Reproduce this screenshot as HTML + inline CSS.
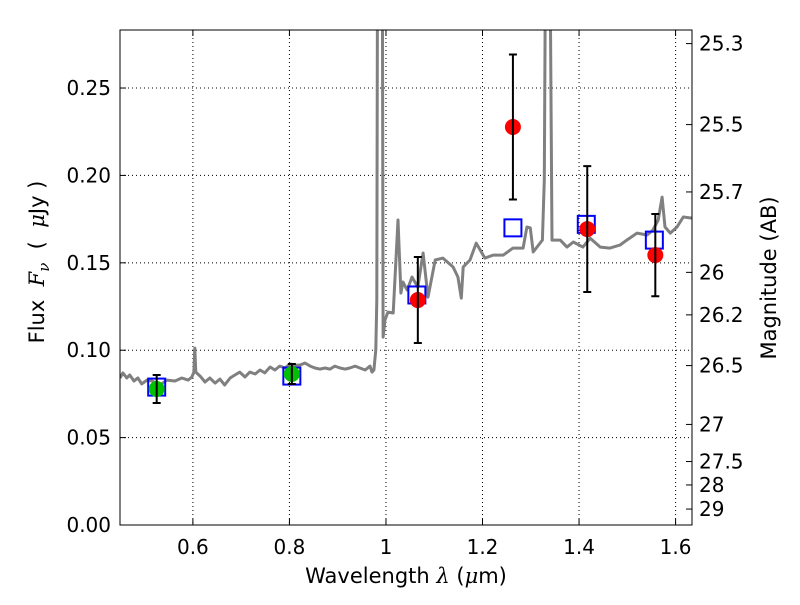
<!DOCTYPE html>
<html><head><meta charset="utf-8"><style>
body{margin:0;background:#fff;}
svg text{font-family:"DejaVu Sans","Liberation Sans",sans-serif;fill:#000;}
</style></head><body>
<svg id="chart" width="800" height="600" xmlns="http://www.w3.org/2000/svg">
<rect width="800" height="600" fill="#fff"/>
<defs><clipPath id="plotclip"><rect x="120" y="30" width="572" height="495"/></clipPath></defs>
<g id="grid"></g>
<g id="spec" clip-path="url(#plotclip)"></g>
<g id="marks"></g>
<rect x="120" y="30" width="572" height="495" fill="none" stroke="#000" stroke-width="1"/>
<g id="axes"></g>
<text x="406" y="583" font-size="21" text-anchor="middle">Wavelength  <tspan font-style="italic" font-family="DejaVu Serif, serif">λ</tspan> (<tspan font-style="italic" font-family="DejaVu Serif, serif">μ</tspan>m)</text>
<text transform="translate(44,262) rotate(-90)" font-size="21" text-anchor="middle" xml:space="preserve">Flux  <tspan font-style="italic" font-family="DejaVu Serif, serif">F</tspan><tspan font-style="italic" font-size="15" dy="5" font-family="DejaVu Serif, serif">ν</tspan><tspan dy="-5">  (  </tspan><tspan font-style="italic" font-family="DejaVu Serif, serif">μ</tspan>Jy )</text>
<text transform="translate(776,278) rotate(-90)" font-size="21" text-anchor="middle">Magnitude (AB)</text>
</svg>
<script>
const specLam=[0.449,0.455,0.463,0.469,0.478,0.486,0.494,0.505,0.515,0.532,0.546,0.563,0.577,0.590,0.598,0.602,0.604,0.606,0.615,0.625,0.635,0.646,0.656,0.666,0.677,0.687,0.697,0.708,0.718,0.729,0.739,0.749,0.760,0.770,0.780,0.791,0.801,0.811,0.822,0.832,0.843,0.853,0.863,0.874,0.884,0.894,0.905,0.915,0.925,0.936,0.946,0.957,0.967,0.971,0.975,0.979,0.981,0.983,0.988,0.992,0.994,0.998,1.004,1.015,1.025,1.031,1.035,1.044,1.054,1.066,1.077,1.087,1.102,1.118,1.139,1.149,1.156,1.160,1.174,1.187,1.205,1.222,1.243,1.263,1.284,1.292,1.299,1.305,1.324,1.328,1.332,1.338,1.344,1.361,1.375,1.388,1.408,1.423,1.444,1.464,1.485,1.499,1.520,1.541,1.553,1.564,1.572,1.578,1.589,1.603,1.616,1.634];
const specFlux=[0.0841,0.0870,0.0841,0.0858,0.0824,0.0841,0.0807,0.0829,0.0824,0.0801,0.0829,0.0824,0.0841,0.0829,0.0847,0.0875,0.1012,0.0875,0.0852,0.0818,0.0841,0.0812,0.0835,0.0801,0.0841,0.0858,0.0875,0.0847,0.0875,0.0864,0.0887,0.0870,0.0904,0.0887,0.0909,0.0898,0.0921,0.0915,0.0915,0.0927,0.0909,0.0898,0.0892,0.0898,0.0892,0.0909,0.0898,0.0892,0.0898,0.0909,0.0898,0.0887,0.0909,0.0875,0.0887,0.1001,0.1287,0.40,0.40,0.40,0.1075,0.1173,0.1218,0.1213,0.1745,0.1327,0.1390,0.1344,0.1419,0.1361,0.1556,0.1304,0.1516,0.1527,0.1476,0.1419,0.1298,0.1476,0.1516,0.1613,0.1527,0.1544,0.1544,0.1584,0.1584,0.1705,0.1699,0.1562,0.1630,0.1973,0.40,0.40,0.1630,0.1630,0.1590,0.1619,0.1590,0.1641,0.1590,0.1584,0.1602,0.1630,0.1670,0.1659,0.1687,0.1745,0.1876,0.1705,0.1670,0.1705,0.1762,0.1756];
const photLam=[0.525,0.805,1.066,1.263,1.417,1.558];
const photFlux=[0.0778,0.0864,0.1287,0.2277,0.1693,0.1544];
const photErr=[0.008,0.0057,0.0246,0.0415,0.036,0.0235];
const photGreen=[true,true,false,false,false,false];
const modelLam=[0.525,0.805,1.064,1.263,1.415,1.556];
const modelFlux=[0.0789,0.0852,0.1316,0.170,0.172,0.163];
const xTicks=[0.6,0.8,1.0,1.2,1.4,1.6];
const xTickLabels=["0.6","0.8","1","1.2","1.4","1.6"];
const yTicks=[0,0.05,0.10,0.15,0.20,0.25];
const yTickLabels=["0.00","0.05","0.10","0.15","0.20","0.25"];
const magTicks=[25.3,25.5,25.7,26,26.2,26.5,27,27.5,28,29];
const magTickLabels=["25.3","25.5","25.7","26","26.2","26.5","27","27.5","28","29"];

const X0=120,X1=692,Y0=525,Y1=30,XMIN=0.449,XMAX=1.634,YMIN=0,YMAX=0.2832;
const sx=v=>X0+(v-XMIN)/(XMAX-XMIN)*(X1-X0);
const sy=v=>Y0-(v-YMIN)/(YMAX-YMIN)*(Y0-Y1);
const NS="http://www.w3.org/2000/svg";
function mk(tag,attrs,parent){const e=document.createElementNS(NS,tag);for(const k in attrs)e.setAttribute(k,attrs[k]);parent.appendChild(e);return e;}
const grid=document.getElementById('grid'),axes=document.getElementById('axes'),spec=document.getElementById('spec'),marks=document.getElementById('marks');

xTicks.forEach((t,i)=>{const x=sx(t);
 let g=mk('line',{x1:x,x2:x,y1:Y1,y2:Y0,stroke:'#000','stroke-dasharray':'1,3','stroke-width':1},grid);
 
 mk('line',{x1:x,x2:x,y1:Y0,y2:Y0-6,stroke:'#000'},axes);
 mk('line',{x1:x,x2:x,y1:Y1,y2:Y1+6,stroke:'#000'},axes);
 let tx=mk('text',{x:x,y:Y0+29,'font-size':20,'text-anchor':'middle'},axes);tx.textContent=xTickLabels[i];
 
});
yTicks.forEach((t,i)=>{const y=sy(t);
 if(t>0){let g=mk('line',{x1:X0,x2:X1,y1:y,y2:y,stroke:'#000','stroke-dasharray':'1,3','stroke-width':1},grid);
 }
 mk('line',{x1:X0,x2:X0+6,y1:y,y2:y,stroke:'#000'},axes);
 let tx=mk('text',{x:X0-9,y:y+7,'font-size':20,'text-anchor':'end'},axes);tx.textContent=yTickLabels[i];
 
});
magTicks.forEach((m,i)=>{const f=Math.pow(10,(23.9-m)/2.5);const y=sy(f);
 mk('line',{x1:X1-6,x2:X1,y1:y,y2:y,stroke:'#000'},axes);
 let tx=mk('text',{x:X1+7,y:y+7,'font-size':20},axes);tx.textContent=magTickLabels[i];
 
});

let d=specLam.map((l,i)=>(i?'L':'M')+sx(l).toFixed(1)+','+sy(specFlux[i]).toFixed(1)).join('');
let p=mk('path',{d:d,fill:'none',stroke:'#808080','stroke-width':3,'stroke-linejoin':'round'},spec);


modelLam.forEach((l,i)=>{const x=sx(l),y=sy(modelFlux[i]);
 let r=mk('rect',{x:x-8.5,y:y-8.5,width:17,height:17,fill:'none',stroke:'#0000ff','stroke-width':2},marks);
 
});
photLam.forEach((l,i)=>{const x=sx(l),y=sy(photFlux[i]),yt=sy(photFlux[i]+photErr[i]),yb=sy(photFlux[i]-photErr[i]);
 let c=mk('circle',{cx:x,cy:y,r:8,fill:photGreen[i]?'#00c000':'#ff0000'},marks);
 
 let e=mk('path',{d:`M${x},${yt}L${x},${yb}M${x-4},${yt}L${x+4},${yt}M${x-4},${yb}L${x+4},${yb}`,stroke:'#000','stroke-width':2,fill:'none'},marks);
 
});
</script>
</body></html>
